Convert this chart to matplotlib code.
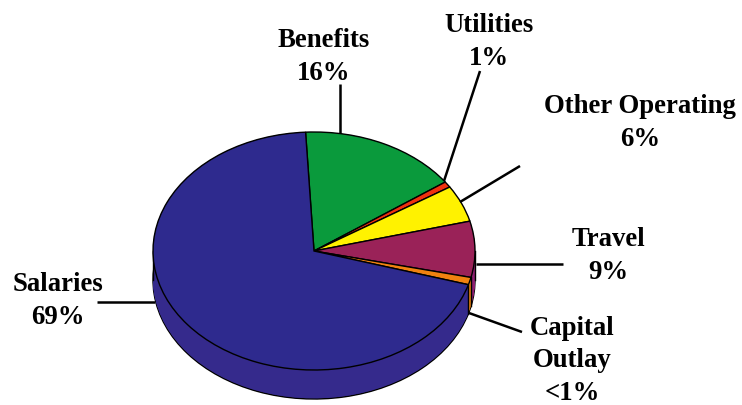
import matplotlib
matplotlib.use("Agg")
import matplotlib.pyplot as plt
import numpy as np

categories = ["Benefits", "Utilities", "Other Operating", "Travel", "Capital Outlay", "Salaries"]
values = [16.0, 0.8, 5.0, 7.6, 1.0, 69.6]
top_colors = ["#0a9a3c", "#f0320f", "#fff200", "#9a2258", "#f08210", "#2e2a8e"]
side_colors = ["#0a9a3c", "#f0320f", "#fff200", "#8e1f70", "#e8820f", "#352a8c"]
labels = ["Benefits\n16%", "Utilities\n1%", "Other Operating\n6%", "Travel\n9%",
          "Capital\nOutlay\n<1%", "Salaries\n69%"]
label_xy = [(324, 57), (489, 42), (640, 123), (608, 256), (572, 361), (58, 301)]
leaders = [((340, 85), (340, 134)), ((480, 72), (444, 182)), ((520, 167), (460, 203)),
           ((563, 265), (476, 265)), ((522, 333), (469, 314)), ((97, 303), (155, 303))]

W, H = 742, 406
CX, CY, RX, RY, DEPTH = 314, 252, 161, 119, 29
START = 93

fig = plt.figure(figsize=(W / 100, H / 100), dpi=100, facecolor="white")
ax = fig.add_axes([0, 0, 1, 1])
d = DEPTH / RY

# side wall: stacked copies of the pie, lowest first
edge = {"edgecolor": "black", "linewidth": 1.0}
ax.pie(values, colors=side_colors, startangle=START, counterclock=False,
       center=(0, -d), radius=1, wedgeprops=edge, normalize=True)
for off in np.linspace(d, 0, 40)[1:]:
    ax.pie(values, colors=side_colors, startangle=START, counterclock=False,
           center=(0, -off), radius=1,
           wedgeprops={"edgecolor": "none", "linewidth": 0}, normalize=True)

# vertical edges on the visible front of the wall
bounds = START - np.cumsum(values) * 3.6
for a in bounds:
    x, y = np.cos(np.radians(a)), np.sin(np.radians(a))
    if y < 0 and abs(y) < 0.5:
        ax.plot([x, x], [y, y - d], color="black", lw=1.0, zorder=5)
ax.plot([-1, -1], [0, -d], color="black", lw=1.0, zorder=5)
ax.plot([1, 1], [0, -d], color="black", lw=1.0, zorder=5)

# top face
wedges, _ = ax.pie(values, colors=top_colors, startangle=START, counterclock=False,
                   center=(0, 0), radius=1,
                   wedgeprops={"edgecolor": "black", "linewidth": 1.0}, normalize=True)
for w in wedges:
    w.set_zorder(6)

ax.set_aspect("auto")
ax.set_xlim(-CX / RX, (W - CX) / RX)
ax.set_ylim(-(H - CY) / RY, CY / RY)
ax.axis("off")

# leaders and labels, in pixel coordinates
ov = fig.add_axes([0, 0, 1, 1], facecolor="none")
ov.set_xlim(0, W)
ov.set_ylim(H, 0)
ov.axis("off")
for (p, q) in leaders:
    ov.plot([p[0], q[0]], [p[1], q[1]], color="black", lw=1.8, solid_capstyle="butt")
for s, (x, y) in zip(labels, label_xy):
    ov.text(x, y, s, ha="center", va="center", multialignment="center",
            family="Liberation Serif", weight="bold", fontsize=19.3,
            linespacing=1.38, color="black", clip_on=True)

fig.savefig("out.png", dpi=100, facecolor="white")
